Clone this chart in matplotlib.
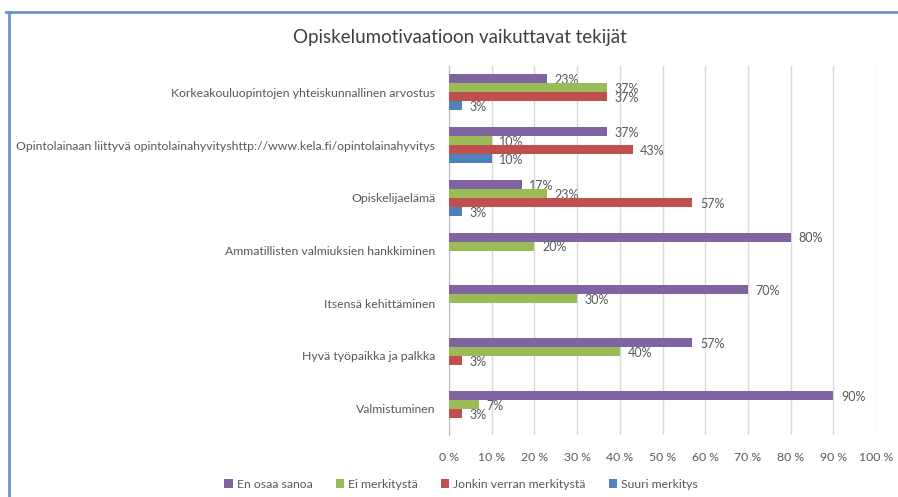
import numpy as np
import matplotlib.pyplot as plt
from matplotlib.lines import Line2D

categories = ['Korkeakouluopintojen yhteiskunnallinen arvostus',
              'Opintolainaan liittyvä opintolainahyvityshttp://www.kela.fi/opintolainahyvitys',
              'Opiskelijaelämä',
              'Ammatillisten valmiuksien hankkiminen',
              'Itsensä kehittäminen',
              'Hyvä työpaikka ja palkka',
              'Valmistuminen']
series = ['En osaa sanoa', 'Ei merkitystä', 'Jonkin verran merkitystä', 'Suuri merkitys']
en_osaa = [23, 37, 17, 80, 70, 57, 90]
ei_merk = [37, 10, 23, 20, 30, 40, 7]
jonkin = [37, 43, 57, 0, 0, 3, 3]
suuri = [3, 10, 3, 0, 0, 0, 0]
colors = ['#8064A2', '#9BBB59', '#C0504D', '#4F81BD']
ticks = np.arange(0, 101, 10)

plt.rcParams['font.family'] = ['Lato', 'DejaVu Sans']
grey = '#595959'

fig = plt.figure(figsize=(8.98, 4.97), dpi=100)
ax = fig.add_axes([449/898, 1-435/497, 427/898, 369/497])

y = np.arange(len(categories))
h = 0.17
for j, (vals, c, name) in enumerate(zip([en_osaa, ei_merk, jonkin, suuri], colors, series)):
    pos = y + (j - 1.5) * h
    ax.barh(pos, vals, height=h, color=c, label=name, zorder=3)
    for p, v in zip(pos, vals):
        if v > 0:
            ax.annotate('%d%%' % v, (v, p), xytext=(5.5, -1), textcoords='offset points',
                        va='center', ha='left', fontsize=9, color=grey)

ax.set_ylim(len(categories) - 0.5, -0.5)
ax.set_xlim(0, 100)
ax.set_xticks(ticks)
ax.set_xticklabels(['%d %%' % t for t in ticks])
ax.set_yticks(y)
ax.set_yticklabels(categories)
ax.tick_params(axis='both', length=0, labelsize=8.8, colors=grey)
ax.tick_params(axis='x', pad=12)
ax.tick_params(axis='y', pad=10)
ax.grid(axis='x', color='#D9D9D9', linewidth=1, zorder=0)
for s in ['top', 'right', 'bottom']:
    ax.spines[s].set_visible(False)
ax.spines['left'].set_color('#BFBFBF')

fig.text(460/898, 1-37/497, 'Opiskelumotivaatioon vaikuttavat tekijät', ha='center', va='center',
         fontsize=13.5, color='#404040')

leg = fig.legend(loc='center', bbox_to_anchor=(461/898, 1-484/497), ncol=4, frameon=False,
                 fontsize=8.8, handlelength=0.7, handleheight=0.7, handletextpad=0.3,
                 columnspacing=1.9, labelcolor=grey)

# window frame
fig.add_artist(Line2D([6/898, 1], [1-11.5/497, 1-11.5/497], color='#6D95CF', linewidth=2))
fig.add_artist(Line2D([9/898, 9/898], [1-11.5/497, 0], color='#6D95CF', linewidth=2))

fig.savefig('out.png', dpi=100)
